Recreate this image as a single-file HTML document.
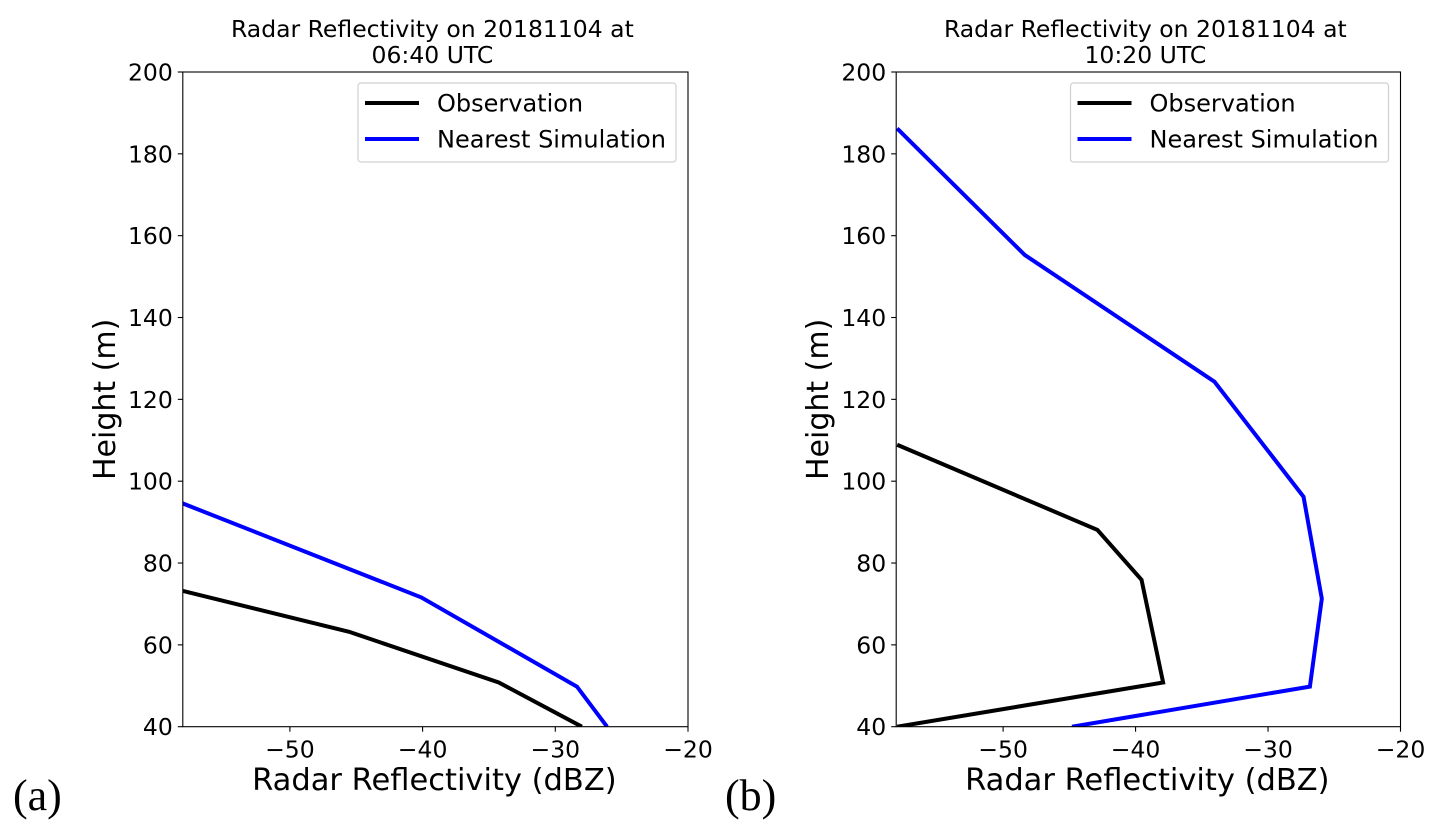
<!DOCTYPE html>
<html><head><meta charset="utf-8"><style>
html,body{margin:0;padding:0;background:#fff;}
svg{display:block;font-family:"DejaVu Sans","Liberation Sans",sans-serif;}
</style></head><body>
<svg id="fig" width="1443" height="836" viewBox="0 0 1443 836" xmlns="http://www.w3.org/2000/svg"></svg>
<script>
// Panel (a) data
const aObsX = [-58.1, -45.54, -34.26, -28.0];
const aObsH = [73.2, 63.2, 50.8, 40];
const aSimX = [-58.1, -40.1, -28.37, -26.1];
const aSimH = [94.6, 71.6, 49.8, 40];
// Panel (b) data
const bObsX = [-58.0, -42.88, -39.55, -37.92, -58.0];
const bObsH = [108.9, 88.1, 75.9, 50.8, 40];
const bSimX = [-58.0, -48.37, -34.04, -27.32, -25.94, -26.84, -44.8];
const bSimH = [186.2, 155.3, 124.3, 96.2, 71.3, 49.8, 40];
const xTicks = [-50, -40, -30, -20];
const yTicks = [40, 60, 80, 100, 120, 140, 160, 180, 200];
const titlesL1 = ["Radar Reflectivity on 20181104 at", "Radar Reflectivity on 20181104 at"];
const titlesL2 = ["06:40 UTC", "10:20 UTC"];
const panelLabels = ["(a)", "(b)"];

const NS = "http://www.w3.org/2000/svg";
const svg = document.getElementById('fig');
function mk(tag, attrs, parent){
  const e = document.createElementNS(NS, tag);
  for (const k in attrs) e.setAttribute(k, attrs[k]);
  (parent||svg).appendChild(e); return e;
}
const XMIN = -58.07, XMAX = -20, YMIN = 40, YMAX = 200;
const TOP = 72, BOT = 726.7;
const FS = 23.5;

function panel(idx, L, R, obsX, obsH, simX, simH, labX){
  const g = mk('g', {});
  
  
  const sx = v => L + (v - XMIN) / (XMAX - XMIN) * (R - L);
  const sy = v => BOT - (v - YMIN) / (YMAX - YMIN) * (BOT - TOP);
  const cid = 'clip' + idx;
  const cp = mk('clipPath', {id: cid}, g);
  mk('rect', {x: L, y: TOP, width: R - L, height: BOT - TOP}, cp);
  function line(xs, hs, color, name){
    const d = xs.map((x, i) => (i ? 'L' : 'M') + sx(x).toFixed(2) + ' ' + sy(hs[i]).toFixed(2)).join(' ');
    const p = mk('path', {d: d, fill: 'none', stroke: color, 'stroke-width': 4, 'stroke-linejoin': 'miter', 'clip-path': 'url(#' + cid + ')'}, g);
    
    
  }
  line(simX, simH, '#0000ff', 'simulation-line');
  line(obsX, obsH, '#000000', 'observation-line');
  const frame = mk('rect', {x: L, y: TOP, width: R - L, height: BOT - TOP, fill: 'none', stroke: '#000', 'stroke-width': 1.1}, g);
  
  
  xTicks.forEach(t => {
    const x = sx(t);
    mk('line', {x1: x, x2: x, y1: BOT, y2: BOT + 5, stroke: '#000', 'stroke-width': 1.1}, g);
    const tx = mk('text', {x: x, y: BOT + 31, 'font-size': FS, 'text-anchor': 'middle', fill: '#000'}, g);
    tx.textContent = '\u2212' + Math.abs(t);
    
    
  });
  yTicks.forEach(t => {
    const y = sy(t);
    mk('line', {x1: L - 5, x2: L, y1: y, y2: y, stroke: '#000', 'stroke-width': 1.1}, g);
    const tx = mk('text', {x: L - 10, y: y + 8.5, 'font-size': FS, 'text-anchor': 'end', fill: '#000'}, g);
    tx.textContent = t;
    
    
  });
  const cx = (L + R) / 2;
  const xl = mk('text', {x: cx - 1, y: 790, 'font-size': 30.5, 'text-anchor': 'middle', fill: '#000'}, g);
  xl.textContent = 'Radar Reflectivity (dBZ)';
  
  
  const yx = L - 68, yy = (TOP + BOT) / 2;
  const yl = mk('text', {x: yx, y: yy, 'font-size': 30, 'text-anchor': 'middle', fill: '#000', transform: 'rotate(-90 ' + yx + ' ' + yy + ')'}, g);
  yl.textContent = 'Height (m)';
  
  
  const t1 = mk('text', {x: cx - 3, y: 37, 'font-size': FS, 'text-anchor': 'middle', fill: '#000'}, g);
  t1.textContent = titlesL1[idx];
  
  
  const t2 = mk('text', {x: cx - 3, y: 63, 'font-size': FS, 'text-anchor': 'middle', fill: '#000'}, g);
  t2.textContent = titlesL2[idx];
  
  
  // legend
  const lg = mk('g', {}, g);
  
  
  const lx = R - 330;
  mk('rect', {x: lx, y: 83, width: 318, height: 79, rx: 3, fill: '#fff', stroke: '#d0d0d0', 'stroke-width': 1.2}, lg);
  [['#000', 'Observation', 103], ['#0000ff', 'Nearest Simulation', 139]].forEach(([c, lab, y]) => {
    const e = mk('g', {}, lg);
    
    
    mk('line', {x1: lx + 7, x2: lx + 61, y1: y, y2: y, stroke: c, 'stroke-width': 4}, e);
    const t = mk('text', {x: lx + 79, y: y + 8.5, 'font-size': 24, fill: '#000'}, e);
    t.textContent = lab;
  });
  const pl = mk('text', {x: labX, y: 810, 'font-size': 44, fill: '#000', 'font-family': '"Liberation Serif","DejaVu Serif",serif'}, g);
  pl.textContent = panelLabels[idx];
  
  
}
panel(0, 182.8, 688, aObsX, aObsH, aSimX, aSimH, 13);
panel(1, 896.2, 1400.5, bObsX, bObsH, bSimX, bSimH, 725);
</script>
</body></html>
